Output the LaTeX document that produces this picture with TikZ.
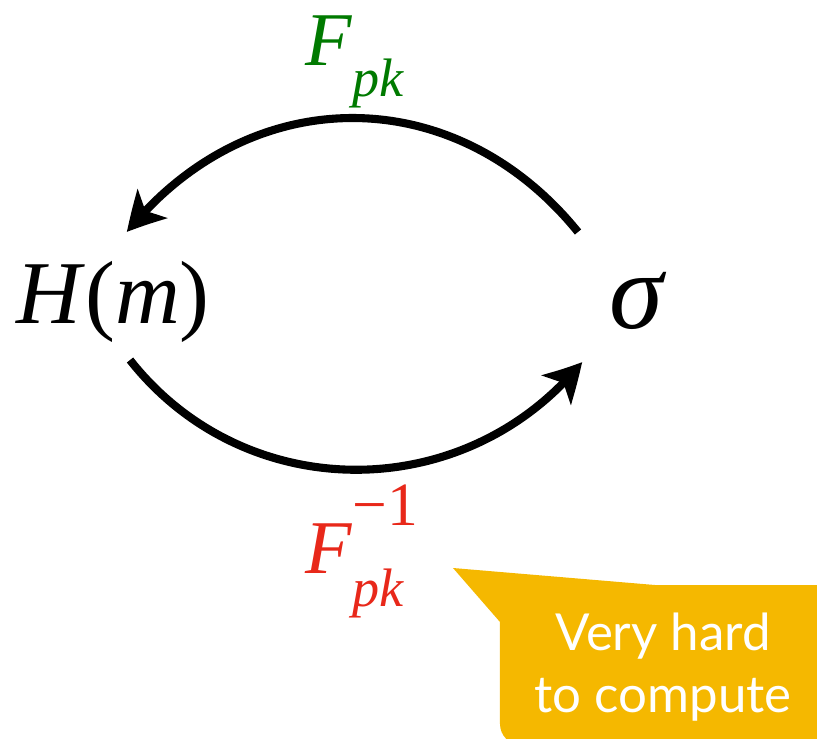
\documentclass[tikz,border=0pt]{standalone}
\usepackage{fontspec}
\setmainfont{Liberation Serif}
\newfontfamily\calloutfont{Lato}
\usepackage{xcolor}
\usetikzlibrary{arrows.meta, bending, positioning}

\definecolor{fwdgreen}{RGB}{0,122,0}
\definecolor{invred}{RGB}{232,40,26}
\definecolor{calloutyellow}{RGB}{245,184,0}

\begin{document}
\begin{tikzpicture}[
    x=0.01cm, y=-0.01cm,
    arr/.style={line width=2.3pt, -{Stealth[length=3.8mm, width=4.1mm, inset=1mm, bend]}},
    maplabel/.style={inner sep=0pt, font=\fontsize{21.6}{24}\selectfont}
]
    \useasboundingbox (0,0) rectangle (817,738);

    % Endpoints
    \node[anchor=base, inner sep=0pt, font=\fontsize{25.5}{28}\selectfont] (hm) at (113,323) {\textit{H}(\textit{m})};
    \node[anchor=base, inner sep=0pt, font=\fontsize{31}{34}\selectfont] (sig) at (638,328) {\textit{σ}};

    % Maps
    \draw[arr] ([shift={(-60,-96)}]sig.base) .. controls (455,80) and (250,80) .. ([shift={(14,-91)}]hm.base);
    \draw[arr] ([shift={(17,37)}]hm.base) .. controls (245,506) and (465,506) .. ([shift={(-56,34)}]sig.base);

    % Labels
    \node[maplabel, text=fwdgreen, anchor=base west] (fpk) at (305,65)
        {\textit{F}\raisebox{-0.9ex}{\fontsize{15.4}{16}\selectfont\textit{pk}}};
    \node[maplabel, text=invred, anchor=base west] (finv) at (305,573)
        {\textit{F}\makebox[0pt][l]{\raisebox{1.35ex}{\fontsize{17.5}{18}\selectfont −1}}\raisebox{-0.95ex}{\fontsize{15.4}{16}\selectfont\textit{pk}}};

    % Callout
    \begin{scope}
        \clip (0,0) rectangle (817,738);
        \fill[calloutyellow] (453,568) -- (655,585) -- (840,585) -- (840,745)
            [rounded corners=6pt] -- (500,745) [sharp corners] -- (500,622) -- cycle;
    \end{scope}
    \node[align=center, text=white, font=\calloutfont\fontsize{14.5}{17.4}\selectfont] (note) at (663,667)
        {Very hard\\to compute};
\end{tikzpicture}
\end{document}
